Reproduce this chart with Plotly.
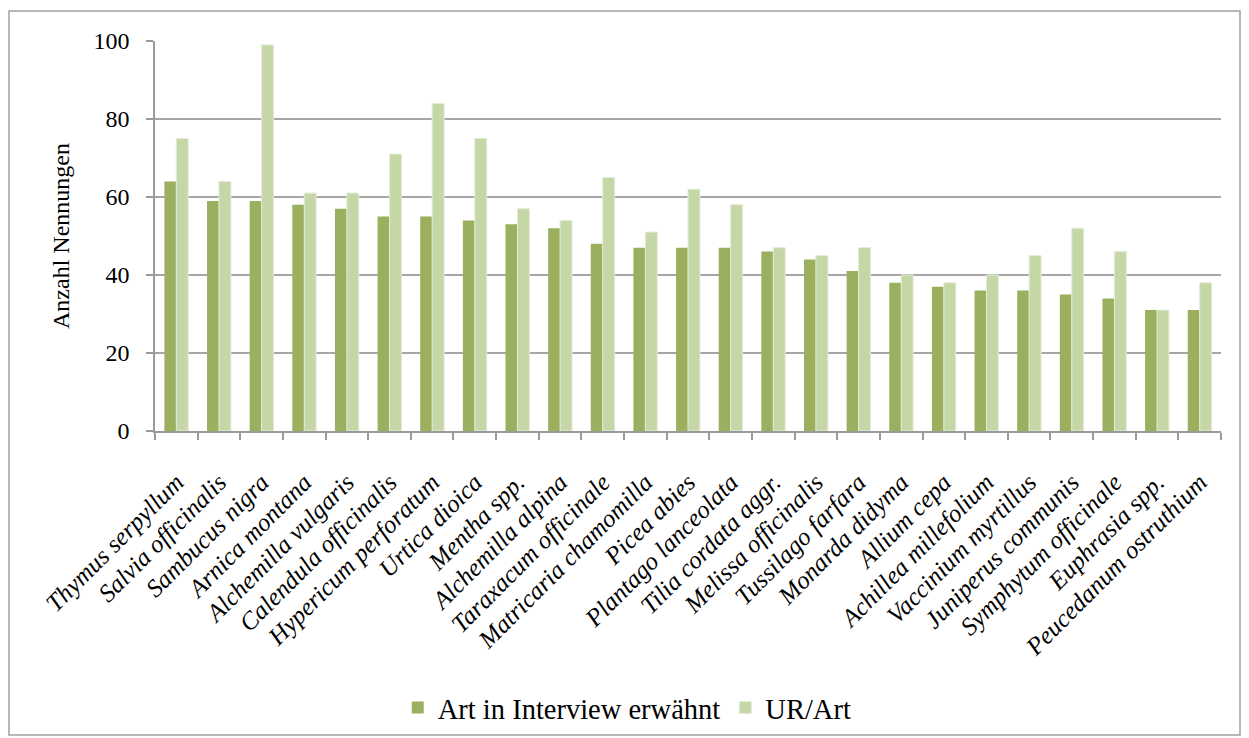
import plotly.graph_objects as go

categories = ["Thymus serpyllum", "Salvia officinalis", "Sambucus nigra", "Arnica montana",
              "Alchemilla vulgaris", "Calendula officinalis", "Hypericum perforatum", "Urtica dioica",
              "Mentha spp.", "Alchemilla alpina", "Taraxacum officinale", "Matricaria chamomilla",
              "Picea abies", "Plantago lanceolata", "Tilia cordata aggr.", "Melissa officinalis",
              "Tussilago farfara", "Monarda didyma", "Allium cepa", "Achillea millefolium",
              "Vaccinium myrtillus", "Juniperus communis", "Symphytum officinale", "Euphrasia spp.",
              "Peucedanum ostruthium"]
art_interview = [64, 59, 59, 58, 57, 55, 55, 54, 53, 52, 48, 47, 47, 47, 46, 44, 41, 38, 37, 36, 36, 35, 34, 31, 31]
ur_art = [75, 64, 99, 61, 61, 71, 84, 75, 57, 54, 65, 51, 62, 58, 47, 45, 47, 40, 38, 40, 45, 52, 46, 31, 38]
y_ticks = [0, 20, 40, 60, 80, 100]

FONT = "Liberation Serif"
W, H = 1249, 738
L, R, T, B = 155, 28, 41, 307
pw, ph = W - L - R, H - T - B

fig = go.Figure()
fig.add_trace(go.Bar(x=categories, y=art_interview, name="Art in Interview erwähnt",
                     marker=dict(color="#9BB05F", line=dict(width=0))))
fig.add_trace(go.Bar(x=categories, y=ur_art, name="UR/Art",
                     marker=dict(color="#C6D7A7", line=dict(color="#E4ECD4", width=1))))

fig.update_layout(
    width=W, height=H,
    margin=dict(l=L, r=R, t=T, b=B, autoexpand=False),
    paper_bgcolor="white", plot_bgcolor="white",
    barmode="group", bargap=0.44, bargroupgap=0,
    font=dict(family=FONT, color="black"),
    showlegend=True,
    legend=dict(orientation="h", x=0.443, xanchor="center", y=-(708 - 431) / 390, yanchor="middle",
                font=dict(family=FONT, size=28.5), bgcolor="rgba(0,0,0,0)", tracegroupgap=0),
    xaxis=dict(type="category", tickson="boundaries", ticks="outside", ticklen=7,
               tickcolor="#9A9A9A", tickwidth=1.5, showline=True, linecolor="#9A9A9A", linewidth=1.5,
               showgrid=False, tickangle=-45, ticklabelstandoff=25,
               tickfont=dict(family=FONT, size=25, style="italic"),
               range=[-0.5, len(categories) - 0.5]),
    yaxis=dict(range=[0, 100], tickvals=y_ticks, ticks="outside", ticklen=7,
               tickcolor="#9A9A9A", tickwidth=1.5, showline=True, linecolor="#9A9A9A", linewidth=1.5,
               showgrid=True, gridcolor="#A6A6A6", gridwidth=1.5,
               tickfont=dict(family=FONT, size=24), ticklabelstandoff=12,
               title=dict(text="Anzahl Nennungen", font=dict(family=FONT, size=24), standoff=17)),
    shapes=[dict(type="rect", xref="paper", yref="paper",
                 x0=(9 - L) / pw, x1=(1240 - L) / pw,
                 y0=(T + ph - 735) / ph, y1=(T + ph - 11) / ph,
                 line=dict(color="#A0A0A0", width=1.5), fillcolor="rgba(0,0,0,0)", layer="below")],
)

fig.write_html("out.html")
